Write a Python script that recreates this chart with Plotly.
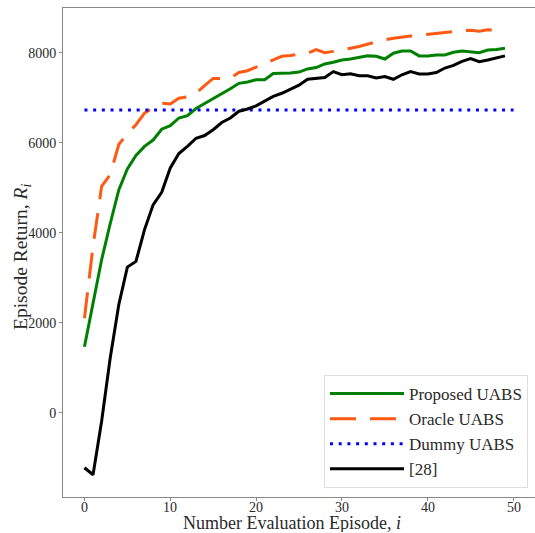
import plotly.graph_objects as go

episodes = list(range(50))
proposed = [1467, 2400, 3400, 4200, 4950, 5420, 5720, 5920, 6060, 6300, 6380, 6550, 6600, 6760, 6870, 6980, 7080, 7200, 7320, 7350, 7400, 7400, 7540, 7540, 7550, 7570, 7640, 7670, 7750, 7790, 7840, 7860, 7900, 7930, 7920, 7860, 7990, 8040, 8040, 7930, 7930, 7950, 7950, 8010, 8040, 8020, 8000, 8060, 8070, 8100]
oracle = [2100, 3700, 5030, 5290, 5960, 6200, 6400, 6660, 6780, 6880, 6860, 6990, 7020, 7100, 7270, 7430, 7430, 7440, 7560, 7600, 7680, 7760, 7830, 7920, 7940, 7970, 7990, 8070, 8000, 8030, 8060, 8100, 8140, 8190, 8250, 8290, 8320, 8350, 8370, 8390, 8410, 8440, 8460, 8480, 8490, 8500, 8480, 8510, 8490, 8480]
dummy_x = [0, 50]
dummy = [6730, 6730]
ref28 = [-1222, -1378, -190, 1215, 2400, 3237, 3363, 4070, 4620, 4900, 5440, 5760, 5920, 6100, 6160, 6290, 6450, 6550, 6700, 6750, 6820, 6920, 7030, 7100, 7190, 7280, 7410, 7430, 7450, 7580, 7510, 7530, 7490, 7490, 7440, 7470, 7410, 7510, 7580, 7530, 7530, 7560, 7660, 7720, 7810, 7870, 7800, 7840, 7880, 7930]

x_ticks = [0, 10, 20, 30, 40, 50]
x_tick_labels = ["0", "10", "20", "30", "40", "50"]
y_ticks = [0, 2000, 4000, 6000, 8000]
x_title = "Number Evaluation Episode, <i>i</i>"
y_title = "Episode Return, <i>R</i><sub><i>i</i></sub>"

FONT = "Liberation Serif"
TXT = "#2a2a2a"

fig = go.Figure()
fig.add_trace(go.Scatter(x=episodes, y=proposed, mode="lines", name="Proposed UABS",
                         line=dict(color="green", width=3)))
fig.add_trace(go.Scatter(x=episodes, y=oracle, mode="lines", name="Oracle UABS",
                         line=dict(color="#ff5a14", width=3, dash="26px,14px")))
fig.add_trace(go.Scatter(x=dummy_x, y=dummy, mode="lines", name="Dummy UABS",
                         line=dict(color="blue", width=3, dash="3px,5.7px")))
fig.add_trace(go.Scatter(x=episodes, y=ref28, mode="lines", name="[28]",
                         line=dict(color="black", width=3)))

plot_w = 535 - 63
plot_h = 533 - 8 - 36

annotations = [
    dict(text=x_title, xref="paper", yref="paper", x=(292 - 63) / plot_w, y=0,
         yshift=-26, xanchor="center", yanchor="middle", showarrow=False,
         height=18, valign="middle", borderpad=0,
         font=dict(family=FONT, size=18, color=TXT)),
    dict(text=y_title, xref="paper", yref="paper", x=-(63 - 22) / plot_w, y=(497 - 257) / plot_h,
         xanchor="center", yanchor="middle", showarrow=False, textangle=-90,
         font=dict(family=FONT, size=19.5, color=TXT)),
]
for t, lab in zip(x_ticks, x_tick_labels):
    annotations.append(dict(text=lab, xref="x", yref="paper", x=t, y=0, yshift=-10,
                            xanchor="center", yanchor="middle", showarrow=False,
                            height=12, valign="middle", borderpad=0,
                            font=dict(family=FONT, size=14, color=TXT)))

fig.update_layout(
    width=535, height=533,
    margin=dict(l=63, r=0, t=8, b=36, autoexpand=False),
    paper_bgcolor="white", plot_bgcolor="white",
    font=dict(family=FONT, size=14, color=TXT),
    showlegend=True,
    legend=dict(x=(528 - 63) / plot_w, y=9 / plot_h, xanchor="right", yanchor="bottom",
                bgcolor="white", bordercolor="#dddddd", borderwidth=1,
                font=dict(family=FONT, size=17, color=TXT),
                itemwidth=74, tracegroupgap=0),
    annotations=annotations,
)
fig.update_xaxes(range=[-2.5, 52.5], tickvals=x_ticks, ticks="outside", ticklen=3,
                 tickcolor="#888", showgrid=False, zeroline=False, automargin=False,
                 showline=True, linecolor="#888", linewidth=1, mirror=True,
                 showticklabels=False)
fig.update_yaxes(range=[-1872, 8994], tickvals=y_ticks, ticks="outside", ticklen=3,
                 tickcolor="#888", showgrid=False, zeroline=False, automargin=False,
                 showline=True, linecolor="#888", linewidth=1, mirror=True,
                 tickfont=dict(family=FONT, size=14, color=TXT))

fig.write_html("out.html")
